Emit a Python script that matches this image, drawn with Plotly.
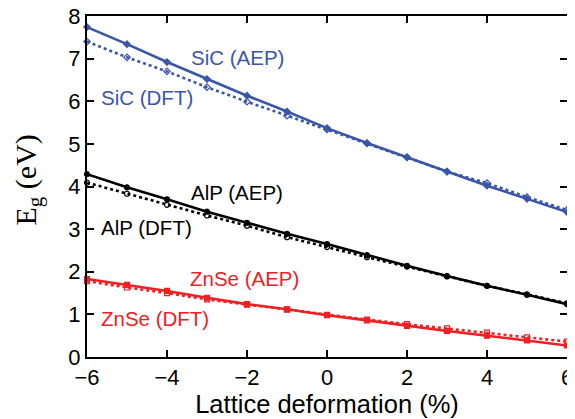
import plotly.graph_objects as go

deformation = [-6, -5, -4, -3, -2, -1, 0, 1, 2, 3, 4, 5, 6]

sic_aep = [7.74, 7.34, 6.92, 6.52, 6.13, 5.76, 5.37, 5.02, 4.69, 4.35, 4.02, 3.71, 3.40]
sic_dft = [7.40, 7.03, 6.70, 6.33, 5.99, 5.66, 5.34, 5.01, 4.68, 4.35, 4.08, 3.75, 3.45]
alp_aep = [4.29, 3.98, 3.70, 3.41, 3.15, 2.89, 2.65, 2.39, 2.14, 1.90, 1.67, 1.46, 1.24]
alp_dft = [4.09, 3.83, 3.57, 3.32, 3.08, 2.81, 2.58, 2.34, 2.12, 1.89, 1.67, 1.47, 1.26]
znse_aep = [1.83, 1.69, 1.55, 1.39, 1.24, 1.12, 0.98, 0.86, 0.73, 0.61, 0.50, 0.39, 0.27]
znse_dft = [1.78, 1.63, 1.50, 1.35, 1.23, 1.11, 0.99, 0.88, 0.77, 0.67, 0.57, 0.46, 0.36]

BLUE = "#3A56A8"
BLACK = "#000000"
RED = "#EE2024"

fig = go.Figure()

def add(y, color, symbol, dash):
    fig.add_trace(go.Scatter(
        x=deformation, y=y, mode="lines+markers",
        line=dict(color=color, width=2.6, dash=dash),
        marker=dict(symbol=symbol, size=5, color=color,
                    line=dict(color=color, width=1.2)),
        showlegend=False, cliponaxis=False))

add(sic_dft, BLUE, "diamond-open", "dot")
add(alp_dft, BLACK, "circle-open", "dot")
add(znse_dft, RED, "square-open", "dot")
add(sic_aep, BLUE, "diamond", "solid")
add(alp_aep, BLACK, "circle", "solid")
add(znse_aep, RED, "square", "solid")

labels = [
    ("SiC (AEP)", -3.45, 7.02, BLUE),
    ("SiC (DFT)", -5.7, 6.08, BLUE),
    ("AlP (AEP)", -3.45, 3.86, BLACK),
    ("AlP (DFT)", -5.7, 3.04, BLACK),
    ("ZnSe (AEP)", -3.47, 1.85, RED),
    ("ZnSe (DFT)", -5.7, 0.91, RED),
]
for text, x, y, c in labels:
    fig.add_annotation(x=x, y=y, text=text, showarrow=False,
                       xanchor="left", yanchor="middle",
                       font=dict(family="Liberation Sans", size=20.5, color=c))

axis_common = dict(showline=True, linecolor="black", linewidth=2, mirror="ticks",
                   ticks="inside", ticklen=7, tickwidth=1.5, tickcolor="black",
                   showgrid=False, zeroline=False, automargin=False,
                   ticklabeloverflow="allow",
                   tickfont=dict(family="Liberation Sans", size=22, color="black"))

fig.update_xaxes(range=[-6, 6], dtick=2, tick0=-6,
                 title=dict(text="Lattice deformation (%)", standoff=5,
                            font=dict(family="Liberation Sans", size=25.5, color="black")),
                 **axis_common)
fig.update_yaxes(range=[0, 8], dtick=1, **axis_common)

# y-axis title as a rotated annotation (serif, with subscript)
fig.add_annotation(xref="paper", yref="paper", x=0, y=0.5, xshift=-60, yshift=6,
                   text="E<sub>g</sub> (eV)", textangle=-90, showarrow=False,
                   xanchor="center", yanchor="middle",
                   font=dict(family="Liberation Serif", size=30, color="black"))

# page body has an 8px margin, so the figure is offset by 8px
fig.update_layout(width=567, height=411, margin=dict(l=79, r=8, t=8, b=62),
                  plot_bgcolor="white", paper_bgcolor="white")

fig.write_html("out.html")
